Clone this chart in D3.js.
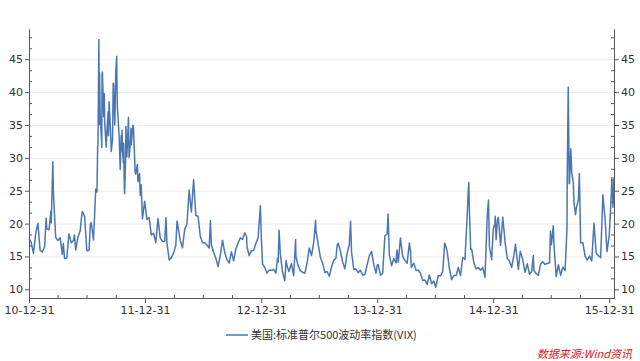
<!DOCTYPE html>
<html>
<head>
<meta charset="utf-8">
<script src="https://cdn.jsdelivr.net/npm/d3@7"></script>
<style>
  html, body { margin: 0; padding: 0; background: #fff; }
  svg { display: block; }
</style>
</head>
<body>
<svg id="chart" width="640" height="361"></svg>
<script>
// ---------------- DATA ----------------
const seriesName = "美国:标准普尔500波动率指数(VIX)";
const sourceText = "数据来源:Wind资讯";
const yearTickDates = ["2010-12-31","2011-12-31","2012-12-31","2013-12-31","2014-12-31","2015-12-31"];
const yearTickLabels = ["10-12-31","11-12-31","12-12-31","13-12-31","14-12-31","15-12-31"];
const yMajorTicks = [10, 15, 20, 25, 30, 35, 40, 45];

const vix2011 = [
 ["2010-12-31",17.75],["2011-01-07",17.14],["2011-01-14",15.46],["2011-01-21",18.47],["2011-01-28",20.04],
 ["2011-02-04",15.93],["2011-02-11",15.69],["2011-02-18",16.43],["2011-02-23",20.80],["2011-02-25",19.22],
 ["2011-03-04",19.06],["2011-03-10",21.88],["2011-03-11",20.08],["2011-03-16",29.40],["2011-03-18",24.44],
 ["2011-03-25",17.91],["2011-04-01",17.40],["2011-04-08",17.87],["2011-04-15",15.32],["2011-04-18",16.96],
 ["2011-04-22",14.69],["2011-04-29",14.75],["2011-05-05",18.20],["2011-05-06",18.40],["2011-05-13",17.07],
 ["2011-05-20",17.43],["2011-05-23",18.27],["2011-05-27",15.98],["2011-06-03",17.95],["2011-06-10",18.86],
 ["2011-06-15",21.32],["2011-06-17",21.85],["2011-06-24",21.10],["2011-07-01",15.87],["2011-07-08",15.95],
 ["2011-07-12",19.90],["2011-07-15",20.14],["2011-07-22",17.52],["2011-07-29",25.25],["2011-08-02",24.79],
 ["2011-08-04",31.66],["2011-08-05",32.00],["2011-08-08",48.00],["2011-08-09",35.06],["2011-08-10",42.99],
 ["2011-08-12",36.36],["2011-08-16",32.91],["2011-08-17",31.58],["2011-08-18",42.67],["2011-08-19",43.05],
 ["2011-08-23",36.27],["2011-08-25",39.76],["2011-08-26",35.59],["2011-08-31",31.62],["2011-09-02",33.92],
 ["2011-09-06",37.00],["2011-09-07",33.38],["2011-09-09",38.52],["2011-09-14",33.59],["2011-09-16",30.98],
 ["2011-09-20",32.86],["2011-09-22",41.35],["2011-09-23",41.25],["2011-09-27",35.00],["2011-09-30",42.96],
 ["2011-10-03",45.45],["2011-10-04",40.82],["2011-10-05",37.81],["2011-10-07",36.20],["2011-10-11",32.86],
 ["2011-10-14",28.24],["2011-10-17",33.39],["2011-10-18",31.07],["2011-10-20",34.18],["2011-10-21",31.32],
 ["2011-10-24",29.25],["2011-10-25",32.22],["2011-10-27",25.46],["2011-10-28",24.53],["2011-10-31",29.96],
 ["2011-11-01",34.77],["2011-11-04",30.16],["2011-11-09",36.16],["2011-11-11",30.04],["2011-11-16",32.91],
 ["2011-11-17",34.51],["2011-11-18",32.00],["2011-11-23",34.96],["2011-11-25",34.47],["2011-11-30",27.80],
 ["2011-12-02",27.52],["2011-12-07",29.00],["2011-12-09",26.38],["2011-12-14",27.60],["2011-12-16",24.29],
 ["2011-12-19",25.90],["2011-12-23",20.73],["2011-12-30",23.40]
];
const vix2012 = [
 ["2012-01-06",20.63],["2012-01-13",20.91],["2012-01-20",18.28],["2012-01-27",18.53],["2012-02-03",17.10],
 ["2012-02-10",20.79],["2012-02-17",17.78],["2012-02-24",17.31],["2012-03-02",17.29],["2012-03-06",20.87],
 ["2012-03-09",17.11],["2012-03-16",14.47],["2012-03-23",14.82],["2012-03-30",15.50],["2012-04-06",16.70],
 ["2012-04-10",20.39],["2012-04-13",19.55],["2012-04-20",17.44],["2012-04-27",16.32],["2012-05-04",19.16],
 ["2012-05-11",19.89],["2012-05-18",25.10],["2012-05-25",21.76],["2012-06-01",26.66],["2012-06-08",21.23],
 ["2012-06-15",21.11],["2012-06-22",18.11],["2012-06-29",17.08],["2012-07-06",17.10],["2012-07-13",16.74],
 ["2012-07-20",16.27],["2012-07-24",20.47],["2012-07-27",16.70],["2012-08-03",15.64],["2012-08-10",14.74],
 ["2012-08-17",13.45],["2012-08-24",15.18],["2012-08-31",17.47],["2012-09-07",15.60],["2012-09-14",14.51],
 ["2012-09-21",13.98],["2012-09-28",15.73],["2012-10-05",14.33],["2012-10-12",16.14],["2012-10-19",17.06],
 ["2012-10-26",17.81],["2012-11-02",17.59],["2012-11-09",18.61],["2012-11-15",17.99],["2012-11-16",16.41],
 ["2012-11-23",15.14],["2012-11-30",15.87],["2012-12-07",15.90],["2012-12-14",17.00],["2012-12-21",17.84],
 ["2012-12-28",22.72],["2012-12-31",18.02]
];
const vix2013 = [
 ["2013-01-04",13.83],["2013-01-11",13.36],["2013-01-18",12.46],["2013-01-25",12.89],["2013-02-01",12.90],
 ["2013-02-08",13.02],["2013-02-15",12.46],["2013-02-20",14.68],["2013-02-22",14.17],["2013-02-25",18.99],
 ["2013-03-01",15.36],["2013-03-08",12.59],["2013-03-15",11.30],["2013-03-19",14.39],["2013-03-22",13.57],
 ["2013-03-28",12.70],["2013-04-05",13.92],["2013-04-12",12.06],["2013-04-18",17.56],["2013-04-19",14.97],
 ["2013-04-26",13.61],["2013-05-03",12.85],["2013-05-10",12.59],["2013-05-17",12.45],["2013-05-24",13.99],
 ["2013-05-31",16.30],["2013-06-07",15.14],["2013-06-14",17.15],["2013-06-20",20.49],["2013-06-21",18.90],
 ["2013-06-28",16.86],["2013-07-05",14.89],["2013-07-12",14.01],["2013-07-19",12.54],["2013-07-26",12.72],
 ["2013-08-02",11.98],["2013-08-09",13.41],["2013-08-16",14.37],["2013-08-23",14.76],["2013-08-27",16.77],
 ["2013-08-30",17.01],["2013-09-06",15.85],["2013-09-13",14.16],["2013-09-20",13.12],["2013-09-27",15.46],
 ["2013-10-04",16.74],["2013-10-08",20.34],["2013-10-11",15.72],["2013-10-18",13.04],["2013-10-25",13.09],
 ["2013-11-01",12.53],["2013-11-08",12.90],["2013-11-15",12.19],["2013-11-22",12.26],["2013-11-29",13.70],
 ["2013-12-06",15.08],["2013-12-13",15.76],["2013-12-20",13.79],["2013-12-27",12.46],["2013-12-31",13.72]
];
const vix2014 = [
 ["2014-01-03",13.76],["2014-01-10",12.14],["2014-01-17",12.44],["2014-01-24",18.14],["2014-01-31",18.41],
 ["2014-02-03",21.44],["2014-02-07",15.29],["2014-02-14",13.57],["2014-02-21",14.68],["2014-02-28",14.00],
 ["2014-03-03",16.00],["2014-03-07",14.11],["2014-03-14",17.82],["2014-03-21",15.00],["2014-03-28",14.41],
 ["2014-04-04",13.96],["2014-04-11",17.03],["2014-04-15",15.61],["2014-04-17",13.36],["2014-04-25",13.97],
 ["2014-05-02",12.91],["2014-05-09",12.92],["2014-05-16",12.44],["2014-05-23",11.36],["2014-05-30",11.40],
 ["2014-06-06",10.73],["2014-06-13",12.18],["2014-06-20",10.85],["2014-06-27",11.26],["2014-07-03",10.32],
 ["2014-07-11",12.08],["2014-07-18",12.06],["2014-07-25",12.69],["2014-07-31",16.95],["2014-08-01",17.03],
 ["2014-08-08",15.77],["2014-08-15",13.15],["2014-08-22",11.47],["2014-08-29",12.09],["2014-09-05",12.09],
 ["2014-09-12",13.31],["2014-09-19",12.11],["2014-09-26",14.85],["2014-10-03",14.55],["2014-10-10",21.24],
 ["2014-10-13",24.64],["2014-10-15",26.25],["2014-10-17",21.99],["2014-10-21",16.08],["2014-10-24",16.11],
 ["2014-10-31",14.03],["2014-11-07",13.12],["2014-11-14",13.31],["2014-11-21",12.90],["2014-11-28",13.33],
 ["2014-12-05",11.82],["2014-12-12",21.08],["2014-12-16",23.57],["2014-12-19",16.49],["2014-12-26",14.50],
 ["2014-12-31",19.20]
];
const vix2015 = [
 ["2015-01-05",19.92],["2015-01-06",21.12],["2015-01-09",17.55],["2015-01-13",20.56],["2015-01-16",20.95],
 ["2015-01-23",16.66],["2015-01-30",20.97],["2015-02-06",17.29],["2015-02-13",14.69],["2015-02-20",14.30],
 ["2015-02-27",13.34],["2015-03-06",15.20],["2015-03-11",16.87],["2015-03-13",16.00],["2015-03-20",13.02],
 ["2015-03-26",15.80],["2015-04-02",14.67],["2015-04-10",12.58],["2015-04-17",13.89],["2015-04-24",12.29],
 ["2015-05-01",12.70],["2015-05-06",15.15],["2015-05-08",12.86],["2015-05-15",12.38],["2015-05-22",12.13],
 ["2015-05-29",13.84],["2015-06-05",14.21],["2015-06-12",13.78],["2015-06-19",13.96],["2015-06-26",14.02],
 ["2015-06-29",18.85],["2015-07-02",16.79],["2015-07-08",19.66],["2015-07-10",16.83],["2015-07-17",11.95],
 ["2015-07-24",13.74],["2015-07-31",12.12],["2015-08-07",13.39],["2015-08-14",12.83],["2015-08-20",19.14],
 ["2015-08-21",28.03],["2015-08-24",40.74],["2015-08-25",36.02],["2015-08-27",26.10],["2015-08-28",26.05],
 ["2015-09-01",31.40],["2015-09-04",27.80],["2015-09-09",26.23],["2015-09-11",23.20],["2015-09-16",21.35],
 ["2015-09-18",22.28],["2015-09-25",23.62],["2015-09-28",27.63],["2015-10-02",17.08],["2015-10-09",17.08],
 ["2015-10-16",15.05],["2015-10-23",14.46],["2015-10-30",15.07],["2015-11-06",14.33],["2015-11-13",20.08],
 ["2015-11-20",15.47],["2015-11-27",15.12],["2015-12-04",14.81],["2015-12-11",24.39],["2015-12-14",22.73],
 ["2015-12-18",20.70],["2015-12-24",15.74],["2015-12-31",18.21],["2016-01-07",24.99],["2016-01-08",27.01],
 ["2016-01-12",22.47],["2016-01-15",27.02]
];

// ---------------- CHART ----------------
(function () {
const parse = d3.timeParse("%Y-%m-%d");
const data = [].concat(vix2011, vix2012, vix2013, vix2014, vix2015)
  .map(d => ({ date: parse(d[0]), value: d[1] }));

const svg = d3.select("#chart");
const mLeft = 29, mRight = 614, mTop = 29, mBottom = 298;
const blue = "#4a77b4";
const axisColor = "#595959";
const fontLatin = "Tahoma, 'DejaVu Sans', 'Liberation Sans', sans-serif";
const fontCJK = "'Noto Sans CJK SC', 'Noto Sans', sans-serif";

const x = d3.scaleTime()
  .domain([parse("2010-12-31"), parse("2016-01-15")])
  .range([mLeft, mRight]);
const y = d3.scaleLinear()
  .domain([8.68, 49.6])
  .range([mBottom, mTop]);

const yMinor = d3.range(10, 50, 5 / 3).filter(v => v <= 49.6 && yMajorTicks.every(m => Math.abs(m - v) > 0.01));
const xMinorDates = [];
for (let yr = 2011; yr <= 2015; yr++) {
  xMinorDates.push(new Date(yr, 2, 31), new Date(yr, 5, 30), new Date(yr, 8, 30));
}

// gridlines
svg.append("g")
  .attr("transform", `translate(${mLeft},0)`)
  .call(d3.axisLeft(y).tickValues(yMajorTicks).tickSize(-(mRight - mLeft)).tickFormat(""))
  .call(g => g.select(".domain").remove())
  .call(g => g.selectAll("line").attr("stroke", "#ececec").attr("stroke-width", 1));

// line
svg.append("path")
  .datum(data)
  .attr("fill", "none")
  .attr("stroke", blue)
  .attr("stroke-width", 1.5)
  .attr("stroke-linejoin", "round")
  .attr("d", d3.line().x(d => x(d.date)).y(d => y(d.value)));

function styleAxis(g) {
  g.select(".domain").attr("stroke", axisColor);
  g.selectAll(".tick line").attr("stroke", axisColor);
  g.selectAll("text").attr("fill", "#333").style("font-family", fontLatin).style("font-size", "11px");
}

svg.append("g").attr("transform", `translate(${mLeft},0)`)
  .call(d3.axisLeft(y).tickValues(yMajorTicks).tickSize(4).tickSizeOuter(0).tickPadding(2).tickFormat(d3.format("d")))
  .call(styleAxis);
svg.append("g").attr("transform", `translate(${mLeft},0)`)
  .call(d3.axisLeft(y).tickValues(yMinor).tickSize(-3).tickSizeOuter(0).tickFormat(""))
  .call(styleAxis);

svg.append("g").attr("transform", `translate(${mRight},0)`)
  .call(d3.axisRight(y).tickValues(yMajorTicks).tickSize(5).tickSizeOuter(0).tickPadding(2).tickFormat(d3.format("d")))
  .call(styleAxis);
svg.append("g").attr("transform", `translate(${mRight},0)`)
  .call(d3.axisRight(y).tickValues(yMinor).tickSize(-3).tickSizeOuter(0).tickFormat(""))
  .call(styleAxis);

const yearDates = yearTickDates.map(parse);
svg.append("g").attr("transform", `translate(0,${mBottom})`)
  .call(d3.axisBottom(x).tickValues(yearDates).tickSize(5).tickSizeOuter(0).tickPadding(3)
    .tickFormat((d, i) => yearTickLabels[i]))
  .call(styleAxis);
svg.append("g").attr("transform", `translate(0,${mBottom})`)
  .call(d3.axisBottom(x).tickValues(xMinorDates).tickSize(-3).tickSizeOuter(0).tickFormat(""))
  .call(styleAxis);

const legend = svg.append("g");
legend.append("line")
  .attr("x1", 226).attr("x2", 248).attr("y1", 335).attr("y2", 335)
  .attr("stroke", blue).attr("stroke-width", 1.5);
legend.append("text")
  .attr("x", 251).attr("y", 339)
  .attr("fill", "#333")
  .style("font-family", fontCJK).style("font-size", "11px")
  .text(seriesName);

svg.append("text")
  .attr("x", 632).attr("y", 358)
  .attr("text-anchor", "end")
  .attr("fill", "#e3171b")
  .style("font-family", fontCJK).style("font-size", "11px").style("font-style", "italic")
  .text(sourceText);
})();
</script>
</body>
</html>
